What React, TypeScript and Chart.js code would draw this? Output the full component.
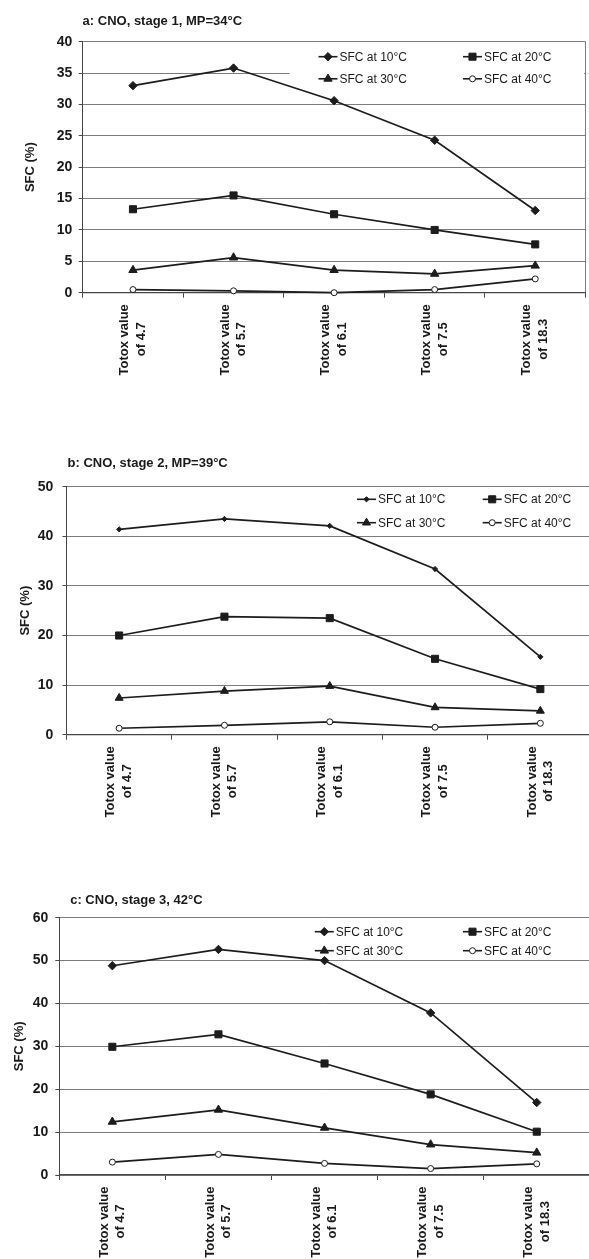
import React, { useEffect, useRef } from 'react';
import { Chart, registerables } from 'chart.js';

Chart.register(...registerables);

const FONT = "'Liberation Sans', Arial, Helvetica, sans-serif";
const INK = '#1a1a1a';
const GRID = '#7c7c7c';
const AXIS = '#464646';
const LINE = '#1c1c1c';

// ---------- data ----------
const categories = ['4.7', '5.7', '6.1', '7.5', '18.3'];
const xLineOne = 'Totox value';
const xLinePrefix = 'of ';
const seriesNames = ['SFC at 10°C', 'SFC at 20°C', 'SFC at 30°C', 'SFC at 40°C'];
const yAxisTitle = 'SFC (%)';

const titleA = 'a: CNO, stage 1, MP=34°C';
const yTicksA = [0, 5, 10, 15, 20, 25, 30, 35, 40];
const stage1At10 = [33.0, 35.8, 30.6, 24.3, 13.1];
const stage1At20 = [13.3, 15.5, 12.5, 10.0, 7.7];
const stage1At30 = [3.6, 5.6, 3.6, 3.0, 4.3];
const stage1At40 = [0.5, 0.3, 0.0, 0.5, 2.2];

const titleB = 'b: CNO, stage 2, MP=39°C';
const yTicksB = [0, 10, 20, 30, 40, 50];
const stage2At10 = [41.4, 43.5, 42.1, 33.4, 15.7];
const stage2At20 = [20.0, 23.8, 23.5, 15.3, 9.2];
const stage2At30 = [7.4, 8.8, 9.8, 5.5, 4.8];
const stage2At40 = [1.3, 1.9, 2.6, 1.5, 2.3];

const titleC = 'c: CNO, stage 3, 42°C';
const yTicksC = [0, 10, 20, 30, 40, 50, 60];
const stage3At10 = [48.8, 52.6, 50.0, 37.8, 16.9];
const stage3At20 = [29.9, 32.8, 26.0, 18.8, 10.1];
const stage3At30 = [12.4, 15.2, 11.0, 7.1, 5.2];
const stage3At40 = [3.0, 4.8, 2.7, 1.5, 2.6];

// ---------- styles ----------
const markerStyles = ['rectRot', 'rect', 'triangle', 'circle'];
const X_FONT_SIZE = 13;
const X_LINE_H = 1.28;

type Layout = {
  top: number;
  width: number;
  height: number;
  area: { left: number; top: number; right: number; bottom: number };
  yTitleX: number;
  yTickPad: number;
  titleX: number;
  titleY: number;
  legend: { col1: number; col2: number; row1: number; row2: number; boxPad: number };
  radii: number[];
};

const layoutA: Layout = {
  top: 0, width: 600, height: 400,
  area: { left: 82.7, top: 41.7, right: 585.5, bottom: 292.7 },
  yTitleX: 30, yTickPad: 6.4, titleX: 82.6, titleY: 21.7,
  legend: { col1: 235.8, col2: 380.3, row1: 15.0, row2: 37.1, boxPad: 12 },
  radii: [4.2, 5, 4.8, 3],
};
const layoutB: Layout = {
  top: 420, width: 600, height: 420,
  area: { left: 66.5, top: 66.7, right: 593, bottom: 314.7 },
  yTitleX: 25.5, yTickPad: 9.2, titleX: 67.6, titleY: 43.3,
  legend: { col1: 290.5, col2: 416.2, row1: 12.6, row2: 36.0, boxPad: 10 },
  radii: [2.6, 5, 4.6, 3],
};
const layoutC: Layout = {
  top: 840, width: 600, height: 440,
  area: { left: 59.3, top: 77.7, right: 589.8, bottom: 335 },
  yTitleX: 19.5, yTickPad: 7, titleX: 70.2, titleY: 60,
  legend: { col1: 255.5, col2: 403.7, row1: 14.0, row2: 33.0, boxPad: 8 },
  radii: [4.2, 5, 4.8, 3],
};

const measureCtx = document.createElement('canvas').getContext('2d') as CanvasRenderingContext2D;
function xTickLines(cat: string): string[] {
  const second = xLinePrefix + cat;
  measureCtx.font = `bold ${X_FONT_SIZE}px ${FONT}`;
  const diff = measureCtx.measureText(xLineOne).width - measureCtx.measureText(second).width;
  const sp = measureCtx.measureText(' ').width;
  const n = Math.max(0, Math.round(diff / 2 / sp));
  return [xLineOne, second + ' '.repeat(n)];
}

function drawMarker(ctx: CanvasRenderingContext2D, style: string, x: number, y: number, r: number, fill: string) {
  ctx.beginPath();
  if (style === 'rect') {
    const s = Math.SQRT1_2 * r;
    ctx.rect(x - s, y - s, 2 * s, 2 * s);
  } else if (style === 'rectRot') {
    ctx.moveTo(x - r, y);
    ctx.lineTo(x, y - r);
    ctx.lineTo(x + r, y);
    ctx.lineTo(x, y + r);
    ctx.closePath();
  } else if (style === 'triangle') {
    ctx.moveTo(x, y - r);
    ctx.lineTo(x + 0.866 * r, y + 0.5 * r);
    ctx.lineTo(x - 0.866 * r, y + 0.5 * r);
    ctx.closePath();
  } else {
    ctx.arc(x, y, r, 0, Math.PI * 2);
  }
  ctx.fillStyle = fill;
  ctx.fill();
  ctx.strokeStyle = LINE;
  ctx.lineWidth = 1;
  ctx.stroke();
}

function Panel({ title, yTicks, series, layout }: { title: string; yTicks: number[]; series: number[][]; layout: Layout }) {
  const ref = useRef<HTMLCanvasElement>(null);
  useEffect(() => {
    const a = layout.area;
    const titlePlugin = {
      id: 'panelTitle',
      afterDraw(chart: any) {
        const ctx = chart.ctx as CanvasRenderingContext2D;
        ctx.save();
        ctx.font = `bold 13px ${FONT}`;
        ctx.fillStyle = INK;
        ctx.textAlign = 'left';
        ctx.textBaseline = 'middle';
        ctx.fillText(title, layout.titleX, layout.titleY);
        ctx.restore();
      },
    };
    const legendPlugin = {
      id: 'panelLegend',
      beforeDatasetsDraw(chart: any) {
        const ctx = chart.ctx as CanvasRenderingContext2D;
        const ca = chart.chartArea;
        const L = layout.legend;
        ctx.save();
        ctx.fillStyle = '#ffffff';
        const bx = ca.left + L.col1 - 29;
        ctx.fillRect(bx, ca.top + L.row1 - L.boxPad, ca.right - 1.5 - bx, L.row2 - L.row1 + 2 * L.boxPad);
        chart.data.datasets.forEach((ds: any, i: number) => {
          const x0 = ca.left + (i % 2 === 0 ? L.col1 : L.col2);
          const y = ca.top + (i < 2 ? L.row1 : L.row2);
          ctx.strokeStyle = LINE;
          ctx.lineWidth = 1.6;
          ctx.beginPath();
          ctx.moveTo(x0, y);
          ctx.lineTo(x0 + 19, y);
          ctx.stroke();
          drawMarker(ctx, ds.pointStyle, x0 + 9.5, y, ds.pointRadius, ds.pointBackgroundColor);
          ctx.fillStyle = INK;
          ctx.font = `12px ${FONT}`;
          ctx.textAlign = 'left';
          ctx.textBaseline = 'middle';
          ctx.fillText(ds.label, x0 + 21, y + 0.5);
        });
        ctx.restore();
      },
    };

    const chart = new Chart(ref.current as HTMLCanvasElement, {
      type: 'line',
      data: {
        labels: categories.map(xTickLines),
        datasets: series.map((data, i) => ({
          label: seriesNames[i],
          data,
          borderColor: LINE,
          borderWidth: 1.7,
          pointStyle: markerStyles[i],
          pointRadius: layout.radii[i],
          pointHoverRadius: layout.radii[i],
          pointBackgroundColor: i === 3 ? '#ffffff' : LINE,
          pointBorderColor: LINE,
          pointBorderWidth: 1,
          tension: 0,
          fill: false,
          clip: false,
        })),
      } as any,
      options: {
        responsive: false,
        animation: false,
        devicePixelRatio: 1,
        events: [],
        layout: {
          padding: { left: 0, top: a.top, right: layout.width - a.right, bottom: 0 },
        },
        plugins: {
          legend: { display: false },
          title: { display: false },
          tooltip: { enabled: false },
        },
        scales: {
          x: {
            type: 'category',
            offset: true,
            grid: {
              offset: true,
              drawOnChartArea: true,
              color: (c: any) => (c.type === 'scale' ? GRID : 'rgba(0,0,0,0)'),
              tickColor: AXIS,
              tickLength: 5,
              lineWidth: 1,
            },
            border: { display: true, color: AXIS, width: 1.2 },
            ticks: {
              autoSkip: false,
              maxRotation: 90,
              minRotation: 90,
              padding: 6.5,
              labelOffset: -(X_FONT_SIZE * X_LINE_H) / 2,
              color: INK,
              font: { family: FONT, size: X_FONT_SIZE, weight: 'bold', lineHeight: X_LINE_H },
            },
            afterFit: (s: any) => {
              s.height = layout.height - a.bottom;
            },
          },
          y: {
            min: yTicks[0],
            max: yTicks[yTicks.length - 1],
            afterBuildTicks: (s: any) => {
              s.ticks = yTicks.map((v) => ({ value: v }));
            },
            grid: { color: GRID, lineWidth: 1, tickLength: 4, tickColor: AXIS },
            border: { display: true, color: AXIS, width: 1 },
            ticks: {
              padding: layout.yTickPad,
              color: INK,
              font: { family: FONT, size: 14, weight: 'bold' },
            },
            title: {
              display: true,
              text: yAxisTitle,
              color: INK,
              font: { family: FONT, size: 13, weight: 'bold', lineHeight: 1.2 },
              padding: { top: layout.yTitleX - 7.8, bottom: 0 },
            },
            afterFit: (s: any) => {
              s.width = a.left;
            },
          },
        },
      } as any,
      plugins: [legendPlugin, titlePlugin],
    });
    return () => chart.destroy();
  }, []);
  return (
    <canvas
      ref={ref}
      width={layout.width}
      height={layout.height}
      style={{ position: 'absolute', left: 0, top: layout.top, width: layout.width, height: layout.height }}
    />
  );
}

export default function App() {
  return (
    <div style={{ position: 'fixed', left: 0, top: 0, width: 589, height: 1259, overflow: 'hidden', background: '#ffffff' }}>
      <Panel title={titleA} yTicks={yTicksA} series={[stage1At10, stage1At20, stage1At30, stage1At40]} layout={layoutA} />
      <Panel title={titleB} yTicks={yTicksB} series={[stage2At10, stage2At20, stage2At30, stage2At40]} layout={layoutB} />
      <Panel title={titleC} yTicks={yTicksC} series={[stage3At10, stage3At20, stage3At30, stage3At40]} layout={layoutC} />
    </div>
  );
}
